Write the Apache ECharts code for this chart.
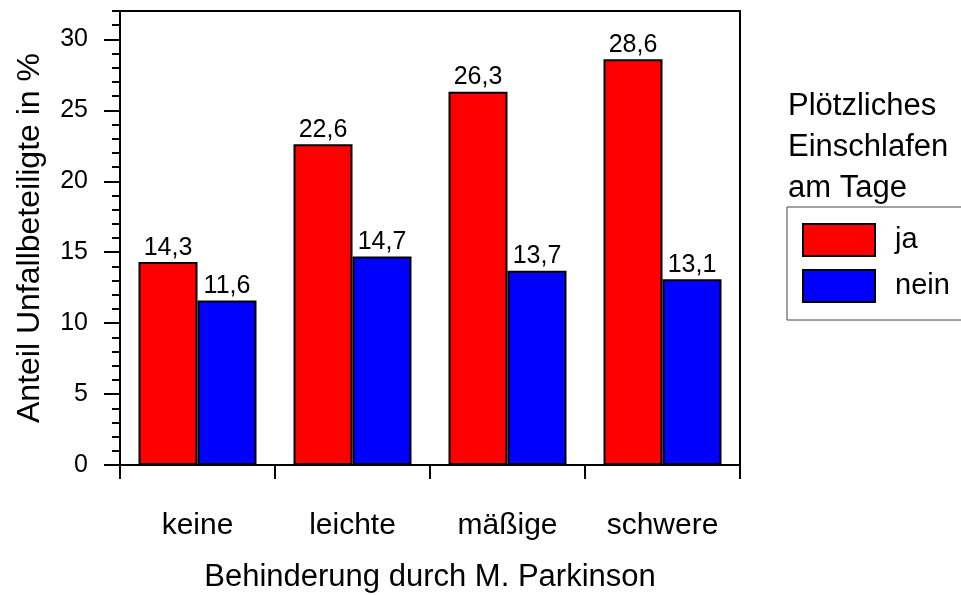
<!DOCTYPE html>
<html>
<head>
<meta charset="utf-8">
<script src="https://cdn.jsdelivr.net/npm/echarts@6/dist/echarts.min.js"></script>
<style>html,body{margin:0;padding:0;background:#fff}#c{width:961px;height:595px}</style>
</head>
<body>
<div id="c"></div>
<script>
const categories = ['keine', 'leichte', 'mäßige', 'schwere'];
const jaValues = [14.3, 22.6, 26.3, 28.6];
const neinValues = [11.6, 14.7, 13.7, 13.1];
const majorTicks = [0, 5, 10, 15, 20, 25, 30];
const seriesNames = ['ja', 'nein'];
const legendTitle = 'Plötzliches\nEinschlafen\nam Tage';
const xTitle = 'Behinderung durch M. Parkinson';
const yTitle = 'Anteil Unfallbeteiligte in %';

const FONT = 'Liberation Sans, Arial, sans-serif';
const chart = echarts.init(document.getElementById('c'), null, {renderer: 'canvas'});
const fmt = v => String(v).replace('.', ',');
const barLabel = {show: true, position: 'top', distance: 2, color: '#000', fontSize: 25, fontFamily: FONT,
  formatter: p => fmt(p.value)};

chart.setOption({
  animation: false,
  backgroundColor: '#fff',
  textStyle: {fontFamily: FONT},
  title: {
    text: legendTitle, left: 783, top: 81,
    textStyle: {fontSize: 31, fontWeight: 'normal', color: '#000', lineHeight: 41, fontFamily: FONT}
  },
  legend: {
    orient: 'vertical', left: 787, top: 207,
    padding: [16, 200, 17, 15],
    itemWidth: 72, itemHeight: 32, itemGap: 12,
    icon: 'rect',
    borderColor: '#444', borderWidth: 1,
    textStyle: {fontSize: 29, color: '#000', fontFamily: FONT, padding: [0, 0, 0, 15]},
    data: seriesNames
  },
  grid: {left: 120, right: 221, top: 11, bottom: 130, outerBoundsMode: 'none', containLabel: false,
    show: true, borderColor: '#000', borderWidth: 2, backgroundColor: 'transparent'},
  xAxis: {
    type: 'category', data: categories,
    axisLine: {lineStyle: {color: '#000', width: 2}},
    axisTick: {show: true, length: 14, lineStyle: {color: '#000', width: 2}},
    axisLabel: {fontSize: 30, color: '#000', margin: 46, fontFamily: FONT},
    name: xTitle, nameLocation: 'middle', nameGap: 97,
    nameTextStyle: {fontSize: 31, color: '#000', fontFamily: FONT}
  },
  yAxis: [{
    type: 'value', min: 0, max: 32, interval: 1,
    axisLine: {show: true, lineStyle: {color: '#000', width: 2}},
    axisTick: {show: true, length: 16, lineStyle: {color: '#000', width: 2}, customValues: majorTicks},
    axisLabel: {fontSize: 25, color: '#000', margin: 32, fontFamily: FONT, customValues: majorTicks},
    splitLine: {show: false},
    name: yTitle, nameLocation: 'middle', nameGap: 74,
    nameTextStyle: {fontSize: 32, color: '#000', fontFamily: FONT}
  }, {
    type: 'value', min: 0, max: 32, interval: 1, position: 'left',
    axisLine: {show: false},
    axisTick: {show: true, length: 8, lineStyle: {color: '#000', width: 2}},
    axisLabel: {show: false},
    splitLine: {show: false}
  }],
  series: [{
    name: seriesNames[0], type: 'bar', data: jaValues, barWidth: 59, barGap: '0%',
    itemStyle: {color: '#ff0000', borderColor: '#000', borderWidth: 2},
    label: barLabel
  }, {
    name: seriesNames[1], type: 'bar', data: neinValues, barWidth: 59, barGap: '0%',
    itemStyle: {color: '#0000ff', borderColor: '#000', borderWidth: 2},
    label: barLabel
  }]
});
</script>
</body>
</html>
